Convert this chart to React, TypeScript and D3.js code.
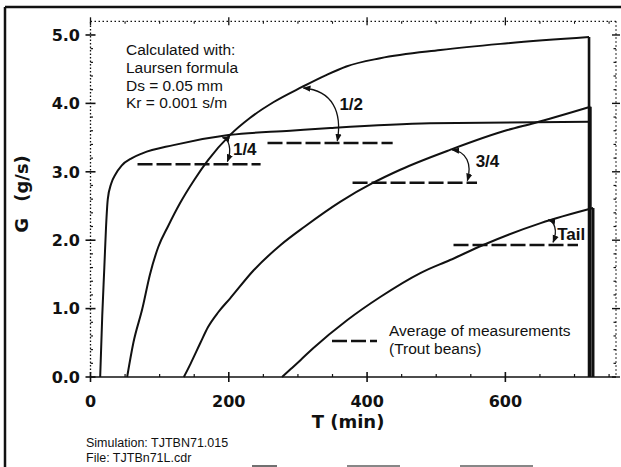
import React from 'react';
import * as d3 from 'd3';

const W = 621;
const H = 467;

// Simulated sediment transport curves: [T (min), G (g/s)]
const curveQuarter: [number, number][] = [
  [14, 0], [17, 0.9], [20, 1.6], [22.5, 2.2], [25, 2.6], [30, 2.83], [36, 2.96], [45, 3.09],
  [60, 3.2], [75, 3.27], [120, 3.39], [202, 3.54], [289, 3.6], [347, 3.64], [491, 3.71], [722, 3.73],
];
const curveHalf: [number, number][] = [
  [53, 0], [62, 0.5], [75, 1.0], [86, 1.5], [98, 1.9], [112, 2.2], [130, 2.55], [150, 2.88],
  [170, 3.17], [202, 3.54], [231, 3.79], [265, 4.02], [306, 4.24], [340, 4.41], [370, 4.54],
  [419, 4.66], [506, 4.78], [593, 4.87], [721, 4.97],
];
const curveThreeQuarter: [number, number][] = [
  [135, 0], [145, 0.2], [159, 0.5], [170, 0.73], [185, 0.95], [202, 1.15], [236, 1.56], [275, 1.93],
  [310, 2.2], [361, 2.56], [409, 2.84], [448, 3.03], [520, 3.32], [603, 3.61], [641, 3.71], [723, 3.95],
];
const curveTail: [number, number][] = [
  [277, 0], [290, 0.12], [304, 0.25], [322, 0.42], [371, 0.83], [419, 1.17], [477, 1.52],
  [520, 1.71], [568, 1.93], [651, 2.25], [727, 2.47],
];
const curves = [curveQuarter, curveHalf, curveThreeQuarter, curveTail];

// Average of measurements (dashed): level G and T span
const measLabels = ['1/4', '1/2', '3/4', 'Tail'];
const measG = [3.11, 3.42, 2.84, 1.93];
const measT0 = [68, 256, 379, 525];
const measT1 = [246, 437, 559, 705];

// Arrows from simulated curve to measurement level, and label anchors
const arrowFrom: [number, number][] = [[191, 3.5], [308, 4.225], [523, 3.32], [662, 2.295]];
const arrowTo: [number, number][] = [[198, 3.15], [357, 3.45], [545, 2.87], [669, 1.97]];
const labelAt: [number, number][] = [[206, 3.245], [360, 3.9], [557, 3.07], [675, 2.0]];

const xTicks = [0, 200, 400, 600];
const xMinor = [50, 100, 150, 250, 300, 350, 450, 500, 550, 650, 700, 750];
const yTicks = [0, 1, 2, 3, 4, 5];
const yTickLabels = ['0.0', '1.0', '2.0', '3.0', '4.0', '5.0'];
const yMinor = d3.range(0, 5.2, 0.2).filter((v) => Math.abs(v - Math.round(v)) > 0.01);

const noteLines = ['Calculated with:', 'Laursen formula', 'Ds = 0.05 mm', 'Kr = 0.001 s/m'];
const legendLines = ['Average of measurements', '(Trout beans)'];
const footerLines = ['Simulation: TJTBN71.015', 'File: TJTBn71L.cdr'];

export default function App() {
  const x = d3.scaleLinear().domain([0, 760]).range([90.5, 616]);
  const y = d3.scaleLinear().domain([0, 5.2]).range([377, 21.3]);
  const line = d3
    .line<[number, number]>()
    .x((d) => x(d[0]))
    .y((d) => y(d[1]))
    .curve(d3.curveMonotoneX);

  const x0 = x(0), x1 = x(760), y0 = y(0), y1 = y(5.2);
  const ink = '#111';
  const bold = 'DejaVu Sans, sans-serif';
  const arial = 'Liberation Sans, Arial, sans-serif';

  const arrowPath = (i: number) => {
    const px1 = x(arrowFrom[i][0]), py1 = y(arrowFrom[i][1]);
    const px2 = x(arrowTo[i][0]), py2 = y(arrowTo[i][1]);
    const dx = px2 - px1, dy = py2 - py1;
    return `M${px1},${py1} C${px1 + 0.8 * dx + 2},${py1 + 0.05 * dy} ${px2 + 5},${py1 + 0.45 * dy} ${px2},${py2}`;
  };

  return (
    <svg
      width={W}
      height={H}
      viewBox={`0 0 ${W} ${H}`}
      style={{ position: 'absolute', left: 0, top: 0, background: '#fff' }}
    >
      <defs>
        <marker id="ah" viewBox="0 0 10 10" refX="9" refY="5" markerWidth="6" markerHeight="6" orient="auto-start-reverse">
          <path d="M0,1 L10,5 L0,9 z" fill={ink} />
        </marker>
      </defs>
      <rect x={0} y={0} width={W} height={H} fill="#fff" />

      {/* outer frame */}
      <line x1={5} y1={7} x2={W} y2={7} stroke={ink} strokeWidth={2.5} />
      <line x1={5} y1={7} x2={5} y2={H} stroke={ink} strokeWidth={2.5} />
      <line x1={252} y1={466} x2={277} y2={466} stroke={ink} strokeWidth={1.2} />
      <line x1={347} y1={466} x2={400} y2={466} stroke={ink} strokeWidth={1.2} />
      <line x1={460} y1={466} x2={533} y2={466} stroke={ink} strokeWidth={1.2} />

      {/* axes frame */}
      <line x1={x0} y1={y0} x2={x1} y2={y0} stroke={ink} strokeWidth={1.6} />
      <line x1={x0} y1={y0} x2={x0} y2={y1} stroke={ink} strokeWidth={1.3} strokeDasharray="1.5,2" />
      <line x1={x0} y1={y1} x2={x1} y2={y1} stroke={ink} strokeWidth={1.2} strokeDasharray="1.5,2.5" />
      <line x1={x1} y1={y1} x2={x1} y2={y0} stroke={ink} strokeWidth={1.2} strokeDasharray="1.5,2.5" />

      {/* x ticks */}
      {xTicks.map((t) => (
        <g key={'xt' + t}>
          <line x1={x(t)} x2={x(t)} y1={y0 - 5} y2={y0 + 5} stroke={ink} strokeWidth={1.6} />
          <line x1={x(t)} x2={x(t)} y1={y1 - 4} y2={y1 + 4} stroke={ink} strokeWidth={1.3} />
          <text x={x(t)} y={407} textAnchor="middle" fontFamily={bold} fontWeight="bold" fontSize={16} fill={ink}>
            {t}
          </text>
        </g>
      ))}
      {xMinor.map((t) => (
        <g key={'xm' + t}>
          <line x1={x(t)} x2={x(t)} y1={y0 - 3} y2={y0} stroke={ink} strokeWidth={1.2} />
          <line x1={x(t)} x2={x(t)} y1={y1} y2={y1 + 2.5} stroke={ink} strokeWidth={1.1} />
        </g>
      ))}

      {/* y ticks */}
      {yTicks.map((t, i) => (
        <g key={'yt' + t}>
          <line x1={x0 - 5} x2={x0 + 5} y1={y(t)} y2={y(t)} stroke={ink} strokeWidth={1.6} />
          <line x1={x1 - 4} x2={x1 + 4} y1={y(t)} y2={y(t)} stroke={ink} strokeWidth={1.4} />
          <text x={80} y={y(t) + 5.8} textAnchor="end" fontFamily={bold} fontWeight="bold" fontSize={16} fill={ink}>
            {yTickLabels[i]}
          </text>
        </g>
      ))}
      {yMinor.map((t) => (
        <g key={'ym' + t}>
          <line x1={x0} x2={x0 + 2.5} y1={y(t)} y2={y(t)} stroke={ink} strokeWidth={1.2} />
          <line x1={x1 - 2.5} x2={x1} y1={y(t)} y2={y(t)} stroke={ink} strokeWidth={1.2} />
        </g>
      ))}

      {/* axis titles */}
      <text
        transform={`translate(28,194) rotate(-90)`}
        textAnchor="middle"
        fontFamily={bold}
        fontWeight="bold"
        fontSize={18}
        wordSpacing={10}
        fill={ink}
      >
        G (g/s)
      </text>
      <text x={348} y={428} textAnchor="middle" fontFamily={bold} fontWeight="bold" fontSize={18} fill={ink}>
        T (min)
      </text>

      {/* measurement levels */}
      {measG.map((g, i) => (
        <line
          key={'m' + i}
          x1={x(measT0[i])}
          x2={x(measT1[i])}
          y1={y(g)}
          y2={y(g)}
          stroke={ink}
          strokeWidth={2.4}
          strokeDasharray="15,4"
        />
      ))}

      {/* simulated curves */}
      {curves.map((c, i) => {
        const last = c[c.length - 1];
        return (
          <g key={'c' + i}>
            <path d={line(c) || ''} fill="none" stroke={ink} strokeWidth={2} />
            <line x1={x(last[0])} x2={x(last[0])} y1={y(last[1])} y2={y0} stroke={ink} strokeWidth={2.6} />
          </g>
        );
      })}

      {/* arrows + labels */}
      {measLabels.map((lab, i) => (
        <g key={'a' + i}>
          <path
            d={arrowPath(i)}
            fill="none"
            stroke={ink}
            strokeWidth={1.3}
            markerStart="url(#ah)"
            markerEnd="url(#ah)"
          />
          <text
            x={x(labelAt[i][0])}
            y={y(labelAt[i][1])}
            fontFamily={arial}
            fontWeight="bold"
            fontSize={17}
            fill={ink}
          >
            {lab}
          </text>
        </g>
      ))}

      {/* calculation note */}
      {noteLines.map((s, i) => (
        <text key={'n' + i} x={126} y={55 + i * 17.8} fontFamily={arial} fontSize={15.5} fill={ink}>
          {s}
        </text>
      ))}

      {/* legend */}
      <line x1={332} x2={377} y1={341} y2={341} stroke={ink} strokeWidth={2.4} strokeDasharray="15,4" />
      {legendLines.map((s, i) => (
        <text key={'l' + i} x={389} y={336 + i * 18} fontFamily={arial} fontSize={15.5} fill={ink}>
          {s}
        </text>
      ))}

      {/* footer */}
      {footerLines.map((s, i) => (
        <text key={'f' + i} x={86} y={447 + i * 15} fontFamily={arial} fontSize={12.5} fill={ink}>
          {s}
        </text>
      ))}
    </svg>
  );
}
